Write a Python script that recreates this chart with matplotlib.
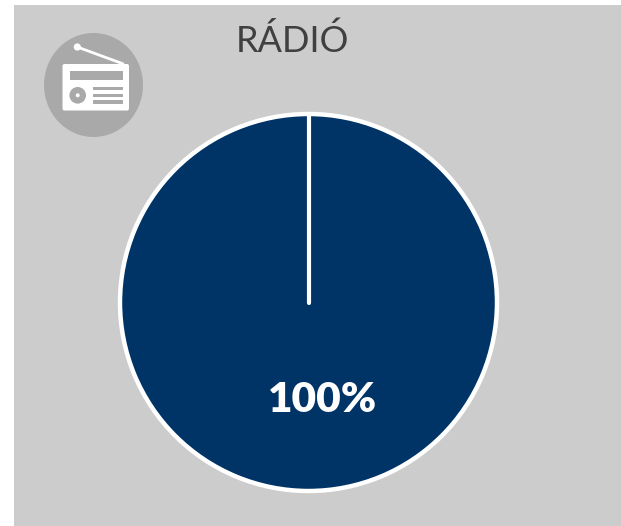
import matplotlib
matplotlib.use("Agg")
import matplotlib.pyplot as plt
from matplotlib.patches import Ellipse, FancyBboxPatch, Rectangle, Circle

title = "RÁDIÓ"
categories = ["Igen"]
values = [100]
value_label = "100%"

NAVY = "#003366"
PANEL = "#cccccc"
ICON_GREY = "#a9a9a9"
PIE_CENTER = (308.5, 302.5)
PIE_RADIUS = 188.5

fig = plt.figure(figsize=(6.21, 5.26), dpi=100, facecolor="white")
ax = fig.add_axes([0, 0, 1, 1])

wedges, _ = ax.pie(
    values,
    labels=None,
    colors=[NAVY],
    startangle=90,
    center=PIE_CENTER,
    radius=PIE_RADIUS,
    frame=True,
    wedgeprops={"edgecolor": "white", "linewidth": 3.2, "zorder": 3},
)

ax.set_xlim(0, 621)
ax.set_ylim(526, 0)
ax.set_aspect("auto")
ax.axis("off")

# matplotlib leaves out the radius edge on a full circle, so draw it from the wedge itself
w = wedges[0]
ax.plot([w.center[0], w.center[0]], [w.center[1], w.center[1] - w.r], color="white", lw=3.0,
        solid_capstyle="round", zorder=4)

ax.add_patch(Rectangle((14, 5), 607, 521, facecolor=PANEL, edgecolor="none", zorder=0))

# radio icon
ax.add_patch(Ellipse((93.5, 85), 99, 104, facecolor=ICON_GREY, edgecolor="none", zorder=2))
ax.add_patch(FancyBboxPatch((62.5, 64), 66.5, 46.5, boxstyle="round,pad=0,rounding_size=2",
                            facecolor="white", edgecolor="none", zorder=3))
ax.add_patch(Rectangle((69.5, 70.7), 53, 9.3, facecolor=ICON_GREY, edgecolor="none", zorder=4))
ax.add_patch(Circle((77.7, 95.3), 8.3, facecolor=ICON_GREY, edgecolor="none", zorder=4))
ax.add_patch(Circle((77.7, 95.3), 2, facecolor="white", edgecolor="none", zorder=5))
for y in (87, 93.7, 100.3):
    ax.add_patch(Rectangle((92.7, y), 30, 3.2, facecolor=ICON_GREY, edgecolor="none", zorder=4))
ax.plot([77.3, 123], [47, 63.8], color="white", lw=2.0, solid_capstyle="round", zorder=3)
ax.add_patch(Circle((77.3, 47), 3.6, facecolor="white", edgecolor="none", zorder=3))

ax.text(292.5, 52, title, family="Lato", fontsize=26, color="#404040",
        ha="center", va="baseline", zorder=5)
ax.text(322.5, 412, value_label, family="Lato", fontsize=30.5, fontweight="heavy", color="white",
        ha="center", va="baseline", zorder=5)

fig.savefig("out.png", dpi=100)
plt.close(fig)
